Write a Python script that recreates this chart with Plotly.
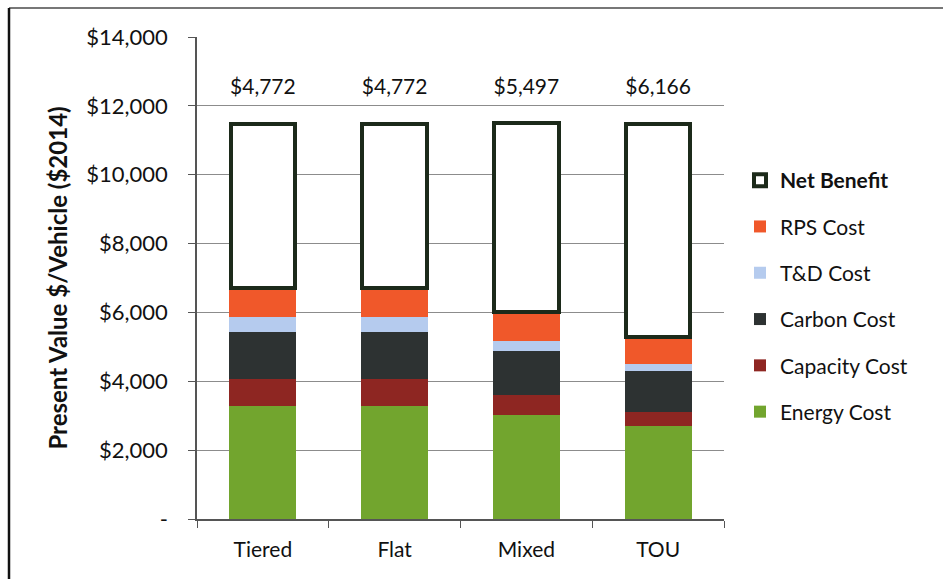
import plotly.graph_objects as go

# Rate design scenarios
categories = ["Tiered", "Flat", "Mixed", "TOU"]

# Present value per vehicle ($2014), stacked cost components
energy_cost = [3290, 3290, 3020, 2710]
capacity_cost = [775, 775, 580, 405]
carbon_cost = [1375, 1375, 1280, 1190]
td_cost = [435, 435, 300, 195]
rps_cost = [830, 830, 825, 795]
net_benefit = [4772, 4772, 5497, 6166]

y_ticks = [0, 2000, 4000, 6000, 8000, 10000, 12000, 14000]
y_tick_labels = ["-", "$2,000", "$4,000", "$6,000", "$8,000", "$10,000", "$12,000", "$14,000"]
label_height = 12500

FONT = "Lato, Open Sans, sans-serif"

series = [
    ("Energy Cost", energy_cost, "#72a52e"),
    ("Capacity Cost", capacity_cost, "#8e2622"),
    ("Carbon Cost", carbon_cost, "#2d3232"),
    ("T&D Cost", td_cost, "#b5cbee"),
    ("RPS Cost", rps_cost, "#f0582a"),
]

fig = go.Figure()
for i, (name, vals, color) in enumerate(series):
    fig.add_trace(go.Bar(
        x=categories, y=vals, name=name, legendgroup=f"g{i}",
        legendrank=10 - i,
        marker=dict(color=color, line=dict(width=0)),
        width=0.51,
    ))

fig.add_trace(go.Bar(
    x=categories, y=net_benefit, name="<b>Net Benefit</b>", legendgroup="g9",
    legendrank=1,
    marker=dict(color="white", line=dict(color="#1c2a1a", width=4)),
    width=0.49,
))

# Net benefit value labels above each stack
fig.add_trace(go.Scatter(
    x=categories, y=[label_height] * len(categories),
    mode="text", text=[f"${v:,.0f}" for v in net_benefit],
    textfont=dict(family=FONT, size=21, color="#111111"),
    showlegend=False, hoverinfo="skip",
))

L, R, T, B = 197, 219, 37, 60
W, H = 943, 579
pw, ph = W - L - R, H - T - B

def px_x(px):
    return (px - L) / pw

def px_y(py):
    return (H - B - py) / ph

fig.update_layout(
    width=W, height=H,
    barmode="stack",
    bargap=0.49,
    paper_bgcolor="white", plot_bgcolor="white",
    margin=dict(l=L, r=R, t=T, b=B),
    font=dict(family=FONT, size=19, color="#111111"),
    legend=dict(
        x=px_x(740), y=px_y(160), xanchor="left", yanchor="top",
        traceorder="grouped", tracegroupgap=16,
        font=dict(family=FONT, size=21, color="#111111"),
        itemwidth=30, bgcolor="rgba(0,0,0,0)",
    ),
    xaxis=dict(
        showline=True, linecolor="#555555", linewidth=1.5,
        ticks="outside", tickson="boundaries", ticklen=7, tickcolor="#555555",
        tickfont=dict(family=FONT, size=21, color="#111111"),
        ticklabelstandoff=11,
        showgrid=False,
    ),
    yaxis=dict(
        range=[0, 14000], tickvals=y_ticks, ticktext=y_tick_labels,
        showline=True, linecolor="#555555", linewidth=1.5,
        ticks="outside", ticklen=7, tickcolor="#555555",
        showgrid=True, gridcolor="#8c8c8c", gridwidth=1,
        zeroline=False,
        tickfont=dict(family=FONT, size=22, color="#111111"),
        ticklabelstandoff=16,
        title=dict(text="<b>Present Value $/Vehicle ($2014)</b>",
                   font=dict(family=FONT, size=24, color="#111111"), standoff=12),
    ),
    shapes=[
        dict(type="line", xref="paper", yref="paper",
             x0=px_x(9), x1=px_x(943), y0=px_y(8), y1=px_y(8),
             line=dict(color="#777777", width=2)),
        dict(type="line", xref="paper", yref="paper",
             x0=px_x(9), x1=px_x(9), y0=px_y(8), y1=px_y(579),
             line=dict(color="#111111", width=2.5)),
    ],
)

fig.write_html("out.html")
